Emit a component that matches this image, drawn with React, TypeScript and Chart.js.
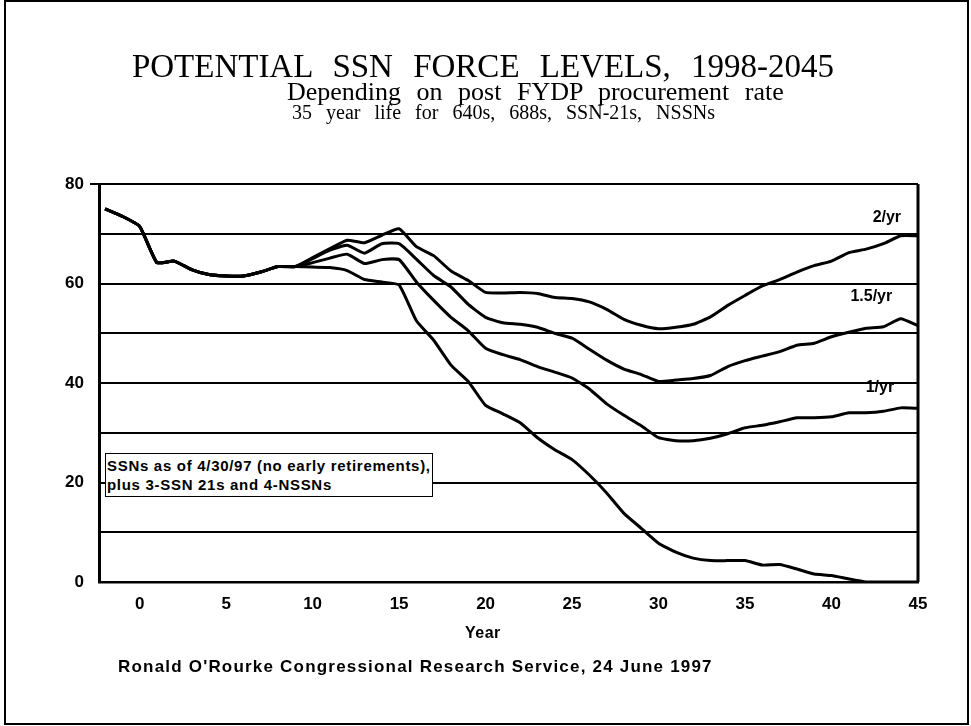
import React, { useEffect, useRef } from "react";
import { Chart, registerables } from "chart.js";

Chart.register(...registerables);

// Years after 2000 (1998 .. 2045)
const years = [
  -2, -1, 0, 1, 2, 3, 4, 5, 6, 7, 8, 9, 10, 11, 12, 13, 14, 15, 16, 17, 18, 19, 20, 21, 22, 23,
  24, 25, 26, 27, 28, 29, 30, 31, 32, 33, 34, 35, 36, 37, 38, 39, 40, 41, 42, 43, 44, 45,
];

// Shared force level, years -2 .. 9
const commonLevels = [75, 73.5, 71.5, 64.2, 64.5, 62.8, 61.8, 61.5, 61.5, 62.3, 63.4, 63.4];

// Years 10 .. 45 for each procurement rate
const rate2PerYr = [
  65.2, 67.0, 68.7, 68.2, 69.7, 71.0, 67.4, 65.6, 62.5, 60.6, 58.2, 58.1, 58.2, 58.0, 57.2, 57.0,
  56.3, 54.8, 52.8, 51.6, 50.9, 51.2, 51.8, 53.3, 55.6, 57.6, 59.5, 60.8, 62.3, 63.6, 64.5, 66.2,
  66.9, 68.0, 69.6, 69.6,
];
const rate15PerYr = [
  65.0, 66.7, 67.7, 66.1, 68.0, 68.0, 64.9, 61.6, 59.3, 55.8, 53.2, 52.1, 51.8, 51.2, 50.0, 49.0,
  46.8, 44.6, 42.8, 41.7, 40.3, 40.6, 40.9, 41.5, 43.3, 44.5, 45.4, 46.3, 47.6, 48.0, 49.3, 50.2,
  51.0, 51.3, 52.9, 51.5,
];
const rate1PerYr = [
  64.2, 65.1, 65.9, 64.0, 64.8, 64.8, 60.3, 56.6, 53.2, 50.5, 47.0, 45.7, 44.7, 43.3, 42.2, 41.0,
  38.8, 35.8, 33.5, 31.4, 29.0, 28.4, 28.4, 28.9, 29.8, 31.0, 31.5, 32.2, 33.0, 33.0, 33.2, 34.0,
  34.0, 34.3, 35.0, 34.9,
];
const noProcurement = [
  63.3, 63.2, 62.6, 60.8, 60.3, 59.7, 52.5, 48.6, 43.6, 40.3, 35.5, 33.8, 32.0, 29.0, 26.6, 24.6,
  21.5, 17.9, 13.8, 10.8, 7.8, 6.0, 4.8, 4.3, 4.3, 4.3, 3.4, 3.5, 2.6, 1.6, 1.3, 0.6, 0, 0, 0, 0,
];

const xTickLabels = [0, 5, 10, 15, 20, 25, 30, 35, 40, 45];
const yTickLabels = [0, 20, 40, 60, 80];

const seriesNames = ["2/yr", "1.5/yr", "1/yr", "none"];
const seriesValues = [rate2PerYr, rate15PerYr, rate1PerYr, noProcurement];

const lineLabels = ["2/yr", "1.5/yr", "1/yr"];
const lineLabelPos = [
  { x: 43.2, y: 73.2 },
  { x: 42.3, y: 57.3 },
  { x: 42.8, y: 39.1 },
];

const SANS = '"Liberation Sans", Arial, sans-serif';
const SERIF = '"Liberation Serif", "Times New Roman", serif';

export default function App() {
  const canvasRef = useRef<HTMLCanvasElement | null>(null);

  useEffect(() => {
    const canvas = canvasRef.current;
    if (!canvas) return;

    const datasets = seriesValues.map((vals, i) => ({
      label: seriesNames[i],
      data: years.map((yr, k) => ({ x: yr, y: [...commonLevels, ...vals][k] })),
      borderColor: "#000",
      backgroundColor: "#000",
      borderWidth: 3,
      pointRadius: 0,
      tension: 0.15,
      fill: false,
    }));

    const framePlugin = {
      id: "framePlugin",
      afterDatasetsDraw(chart: any) {
        const { ctx, chartArea, scales } = chart;
        ctx.save();
        ctx.strokeStyle = "#000";
        ctx.lineWidth = 3;
        ctx.beginPath();
        ctx.moveTo(chartArea.right, chartArea.top);
        ctx.lineTo(chartArea.right, chartArea.bottom);
        ctx.stroke();
        ctx.lineWidth = 2;
        ctx.beginPath();
        ctx.moveTo(chartArea.left - 9, chartArea.top);
        ctx.lineTo(chartArea.right, chartArea.top);
        ctx.stroke();
        ctx.fillStyle = "#000";
        ctx.font = `bold 16px ${SANS}`;
        ctx.textAlign = "center";
        ctx.textBaseline = "middle";
        lineLabels.forEach((t, i) => {
          const px = scales.x.getPixelForValue(lineLabelPos[i].x);
          const py = scales.y.getPixelForValue(lineLabelPos[i].y);
          ctx.fillText(t, px, py);
        });
        ctx.restore();
      },
    };

    const chart = new Chart(canvas, {
      type: "line",
      data: { datasets },
      options: {
        animation: false,
        responsive: false,
        devicePixelRatio: 1,
        layout: { padding: { left: 0, top: 184, right: 53, bottom: 104 } },
        plugins: {
          legend: { display: false },
          tooltip: { enabled: false },
          title: { display: false },
        },
        scales: {
          x: {
            type: "linear",
            min: -2.35,
            max: 45,
            afterFit(scale: any) {
              scale.height = 40;
            },
            afterBuildTicks(scale: any) {
              scale.ticks = xTickLabels.map((v) => ({ value: v }));
            },
            ticks: {
              color: "#000",
              font: { family: SANS, size: 17, weight: "bold" },
              padding: 12,
              maxRotation: 0,
              autoSkip: false,
              callback: (v: any) => String(v),
            },
            grid: { display: false, drawTicks: false },
            border: { display: true, color: "#000", width: 2.5 },
          },
          y: {
            min: 0,
            max: 80,
            afterFit(scale: any) {
              scale.width = 99;
            },
            ticks: {
              stepSize: 10,
              color: "#000",
              font: { family: SANS, size: 17, weight: "bold" },
              padding: 15,
              callback: (v: any) => (yTickLabels.includes(Number(v)) ? String(v) : ""),
            },
            grid: { color: "#000", lineWidth: 2, drawTicks: false },
            border: { display: true, color: "#000", width: 3 },
          },
        },
      },
      plugins: [framePlugin],
    } as any);

    return () => chart.destroy();
  }, []);

  const abs = (style: React.CSSProperties): React.CSSProperties => ({
    position: "absolute",
    whiteSpace: "pre",
    color: "#000",
    ...style,
  });

  return (
    <div style={{ position: "fixed", left: 0, top: 0, width: 971, height: 726, background: "#fff" }}>
      <canvas ref={canvasRef} width={971} height={726} style={{ position: "absolute", left: 0, top: 0 }} />
      <div
        style={{
          position: "absolute",
          left: 4,
          top: 0,
          width: 965,
          height: 725,
          border: "2px solid #000",
          boxSizing: "border-box",
          pointerEvents: "none",
        }}
      />
      <div style={abs({ left: 110, top: 50, width: 746, textAlign: "center", fontFamily: SERIF, fontSize: 33, lineHeight: "33px", wordSpacing: 12 })}>
        POTENTIAL SSN FORCE LEVELS, 1998-2045
      </div>
      <div style={abs({ left: 287, top: 79, fontFamily: SERIF, fontSize: 26, lineHeight: "26px", wordSpacing: 9 })}>
        Depending on post FYDP procurement rate
      </div>
      <div style={abs({ left: 292, top: 102, fontFamily: SERIF, fontSize: 20, lineHeight: "20px", wordSpacing: 9 })}>
        35 year life for 640s, 688s, SSN-21s, NSSNs
      </div>
      <div
        style={abs({
          left: 105,
          top: 453,
          width: 328,
          height: 44,
          boxSizing: "border-box",
          border: "1px solid #000",
          background: "#fff",
          fontFamily: SANS,
          fontWeight: "bold",
          fontSize: 15,
          lineHeight: "19px",
          padding: "2px 0 0 1px",
          letterSpacing: 0.7,
        })}
      >
        {"SSNs as of 4/30/97 (no early retirements),\nplus 3-SSN 21s and 4-NSSNs"}
      </div>
      <div style={abs({ left: 465, top: 623, fontFamily: SANS, fontWeight: "bold", fontSize: 16, lineHeight: "19px", letterSpacing: 0.5 })}>
        Year
      </div>
      <div style={abs({ left: 118, top: 658, fontFamily: SANS, fontWeight: "bold", fontSize: 17, lineHeight: "18px", letterSpacing: 1.2 })}>
        Ronald O'Rourke Congressional Research Service, 24 June 1997
      </div>
    </div>
  );
}
